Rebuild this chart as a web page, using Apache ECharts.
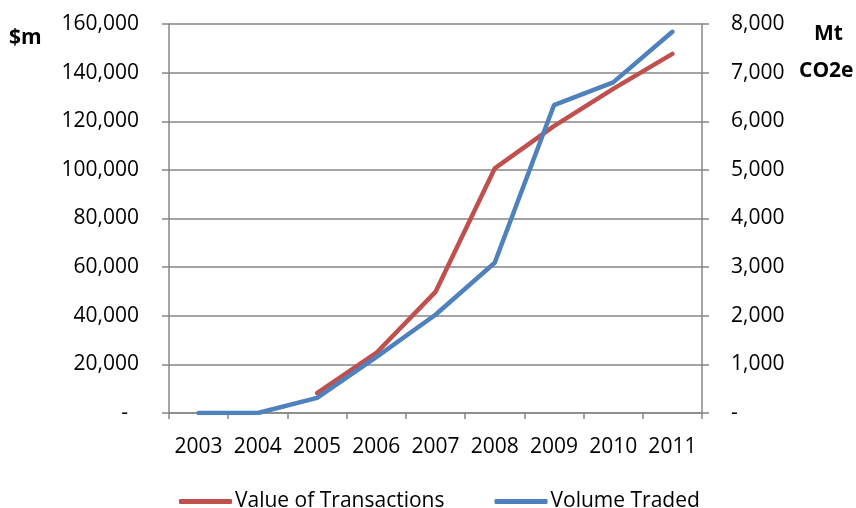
<!DOCTYPE html>
<html>
<head>
<meta charset="utf-8">
<script src="https://cdn.jsdelivr.net/npm/echarts@6/dist/echarts.min.js"></script>
<style>
  html, body { margin: 0; padding: 0; background: #fff; }
  #chart { width: 856px; height: 508px; }
</style>
</head>
<body>
<div id="chart"></div>
<script>
// Carbon market: value of transactions ($m) and volume traded (Mt CO2e)
const years = ['2003', '2004', '2005', '2006', '2007', '2008', '2009', '2010', '2011'];
const valueOfTransactions = [null, null, 8200, 24700, 49800, 100600, 118000, 133300, 147700];
const volumeTraded = [0, 0, 310, 1150, 2020, 3090, 6330, 6800, 7840];
const leftTickLabels = ['-  ', '20,000', '40,000', '60,000', '80,000', '100,000', '120,000', '140,000', '160,000'];
const rightTickLabels = ['-', '1,000', '2,000', '3,000', '4,000', '5,000', '6,000', '7,000', '8,000'];

const FONT = 'Open Sans';
const AXIS_GREY = '#868686';
const RED = '#C0504D';
const BLUE = '#4F81BD';

const chart = echarts.init(document.getElementById('chart'), null, { renderer: 'canvas' });

chart.setOption({
  animation: false,
  textStyle: { fontFamily: FONT },
  grid: { left: 169, right: 154, top: 24, bottom: 95 },
  legend: {
    top: 486,
    left: 174,
    itemWidth: 53,
    itemHeight: 5,
    itemGap: 50,
    icon: 'roundRect',
    textStyle: { fontFamily: FONT, fontSize: 21, color: '#000', padding: [0, 0, 0, -2] },
    data: ['Value of Transactions', 'Volume Traded']
  },
  xAxis: {
    type: 'category',
    data: years,
    boundaryGap: true,
    axisLine: { lineStyle: { color: AXIS_GREY, width: 1.5 } },
    axisTick: { show: true, length: 6, interval: 0, alignWithLabel: false, lineStyle: { color: AXIS_GREY, width: 1.5 } },
    axisLabel: { color: '#000', fontSize: 21, margin: 24, interval: 0, hideOverlap: false, fontFamily: FONT }
  },
  yAxis: [
    {
      type: 'value',
      min: 0, max: 160000, interval: 20000,
      axisLine: { show: true, lineStyle: { color: AXIS_GREY, width: 1.5 } },
      axisTick: { show: true, length: 7, lineStyle: { color: AXIS_GREY, width: 1.5 } },
      splitLine: { show: true, lineStyle: { color: AXIS_GREY, width: 1.5 } },
      axisLabel: {
        color: '#000', fontSize: 21, margin: 30, fontFamily: FONT,
        formatter: (v) => leftTickLabels[Math.round(v / 20000)]
      }
    },
    {
      type: 'value',
      min: 0, max: 8000, interval: 1000,
      position: 'right',
      axisLine: { show: true, lineStyle: { color: AXIS_GREY, width: 1.5 } },
      axisTick: { show: true, length: 7, lineStyle: { color: AXIS_GREY, width: 1.5 } },
      splitLine: { show: false },
      axisLabel: {
        color: '#000', fontSize: 21, margin: 29, fontFamily: FONT,
        formatter: (v) => rightTickLabels[Math.round(v / 1000)]
      }
    }
  ],
  series: [
    {
      name: 'Value of Transactions',
      type: 'line',
      yAxisIndex: 0,
      data: valueOfTransactions,
      showSymbol: false,
      symbol: 'none',
      connectNulls: false,
      itemStyle: { color: RED },
      lineStyle: { color: RED, width: 4.5, cap: 'round' },
      z: 2
    },
    {
      name: 'Volume Traded',
      type: 'line',
      yAxisIndex: 1,
      data: volumeTraded,
      showSymbol: false,
      symbol: 'none',
      itemStyle: { color: BLUE },
      lineStyle: { color: BLUE, width: 4.5, cap: 'round' },
      z: 3
    }
  ],
  graphic: [
    { type: 'text', left: 9, top: 28, style: { text: '$m', font: 'bold 21px "Open Sans"', fill: '#000' } },
    { type: 'text', left: 814, top: 24, style: { text: 'Mt', font: 'bold 21px "Open Sans"', fill: '#000' } },
    { type: 'text', left: 799, top: 61, style: { text: 'CO2e', font: 'bold 21px "Open Sans"', fill: '#000' } }
  ]
});
</script>
</body>
</html>
